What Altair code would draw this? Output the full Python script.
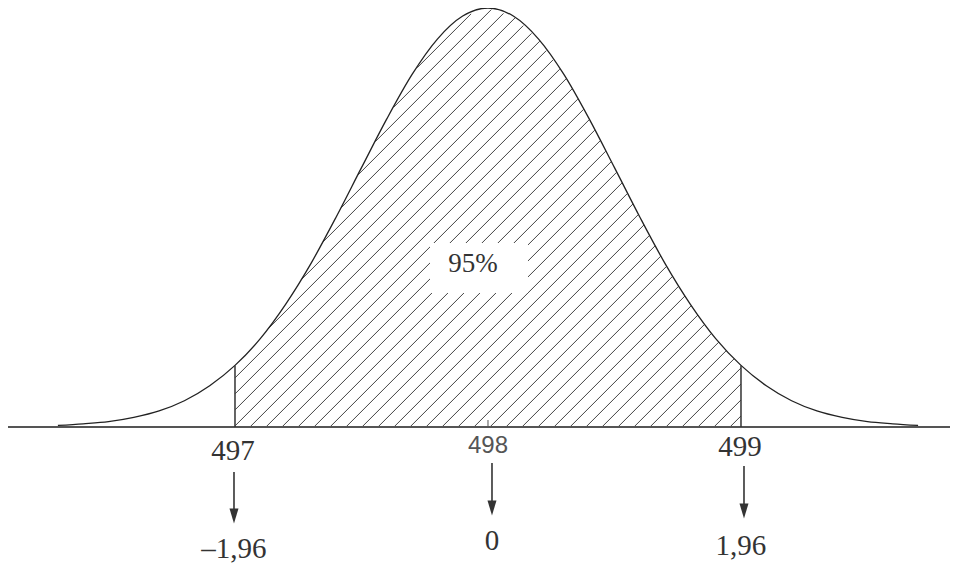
import numpy as np
import pandas as pd
import altair as alt

# ---- data ----
curve_x = [496.3, 496.4, 496.5, 496.6, 496.7, 496.8, 496.9, 497.0, 497.1, 497.2,
           497.3, 497.4, 497.5, 497.6, 497.7, 497.8, 497.9, 498.0, 498.1, 498.2,
           498.3, 498.4, 498.5, 498.6, 498.7, 498.8, 498.9, 499.0, 499.1, 499.2,
           499.3, 499.4, 499.5, 499.6, 499.7]
curve_y = [0.003, 0.006, 0.010, 0.018, 0.030, 0.049, 0.077, 0.115, 0.165, 0.229,
           0.305, 0.392, 0.484, 0.575, 0.658, 0.724, 0.767, 0.782, 0.767, 0.724,
           0.658, 0.575, 0.484, 0.392, 0.305, 0.229, 0.165, 0.115, 0.077, 0.049,
           0.030, 0.018, 0.010, 0.006, 0.003]
lower, mean, upper = 497.0, 498.0, 499.0
value_labels = ["497", "498", "499"]
value_pos = [497.0, 498.0, 499.0]
z_labels = ["\u20131,96", "0", "1,96"]
center_label = "95%"

# ---- layout ----
W, H = 942, 556
BASE_PX = 419  # baseline distance from top of plot, px
PX = 253.0     # px per unit on x
XMIN = 496.1028
XMAX = XMIN + W / PX
YMAX = 0.782
PY = BASE_PX / YMAX
YMIN = -(H - BASE_PX) / PY
xs = alt.Scale(domain=[XMIN, XMAX], nice=False, zero=False)
ys = alt.Scale(domain=[YMIN, YMAX], nice=False, zero=False)
X = lambda f: alt.X(f, type="quantitative", scale=xs, axis=None)
Y = lambda f: alt.Y(f, type="quantitative", scale=ys, axis=None)

# ---- hatch segments clipped to the area under the curve between lower and upper ----
def curve_h(v):
    return np.interp(v, curve_x, curve_y)

spacing = 16.0 / PX
phase = 498.64
segs = []
t = np.arange(0, 700, 0.2)
k_lo = int(np.ceil((phase - (lower - 600 / PX)) / spacing)) + 1
k_hi = int(np.ceil((upper - phase) / spacing)) + 1
for k in range(-k_hi, k_lo + 1):
    c = phase - k * spacing
    v = c + t / PX
    h = t / PY
    inside = (v >= lower) & (v <= upper) & (h <= curve_h(v) - 0.4 / PY)
    if not inside.any():
        continue
    idx = np.where(inside)[0]
    breaks = np.where(np.diff(idx) > 1)[0]
    starts = np.concatenate([[idx[0]], idx[breaks + 1]])
    ends = np.concatenate([idx[breaks], [idx[-1]]])
    for s, e in zip(starts, ends):
        if e - s < 3:
            continue
        segs.append({"x1": v[s], "y1": h[s], "x2": v[e], "y2": h[e]})
hatch_df = pd.DataFrame(segs)

hatch = alt.Chart(hatch_df).mark_rule(color="#444", strokeWidth=1).encode(
    x=X("x1"), y=Y("y1"), x2="x2", y2="y2")

baseline = alt.Chart(pd.DataFrame({"y": [0.0]})).mark_rule(
    color="#555", strokeWidth=2).encode(x=alt.value(0), x2=alt.value(W), y=Y("y"))

curve = alt.Chart(pd.DataFrame({"x": curve_x, "y": curve_y})).mark_line(
    color="#222", strokeWidth=1.3, interpolate="monotone").encode(x=X("x"), y=Y("y"))

bounds_df = pd.DataFrame({"x": [lower, upper], "y": [0.0, 0.0],
                          "y2": [curve_y[curve_x.index(lower)], curve_y[curve_x.index(upper)]]})
bounds = alt.Chart(bounds_df).mark_rule(color="#333", strokeWidth=1.5).encode(
    x=X("x"), y=Y("y"), y2="y2")

tick = alt.Chart(pd.DataFrame({"x": [mean], "y": [0.0]})).mark_rule(
    color="#555", strokeWidth=1, y2Offset=-7).encode(x=X("x"), y=Y("y"), y2="y")

layers = [hatch, baseline, curve, bounds, tick]

# 95% label with white box
lab_x = mean - 15 / PX
lab_y = 155 / PY
lab_df = pd.DataFrame({"x": [lab_x], "y": [lab_y], "t": [center_label]})
layers.append(alt.Chart(lab_df).mark_rect(
    color="white", xOffset=-43, x2Offset=55, yOffset=-29, y2Offset=21).encode(
    x=X("x"), x2="x", y=Y("y"), y2="y"))
layers.append(alt.Chart(lab_df).mark_text(
    font="Liberation Serif", fontSize=27, color="#333", baseline="alphabetic",
    align="center").encode(x=X("x"), y=Y("y"), text="t:N"))

# value labels, arrows, z labels
top_dy = [33, 26, 29]
top_dx = [-2, 0, -1]
top_font = ["Liberation Serif", "Liberation Sans", "Liberation Serif"]
top_size = [29, 24, 29]
top_color = ["#333", "#555", "#333"]
arrow_dx = [-1, 4, 3]
arrow_top = [45, 36, 39]
arrow_bot = [96, 88, 91]
bot_dy = [131, 123, 128]
bot_dx = [-1, 4, 0]
arrow_shape = "M-0.6,-1L0.6,-1L0,1Z"

for i in range(3):
    d = pd.DataFrame({"x": [value_pos[i]], "y": [0.0],
                      "t": [value_labels[i]], "z": [z_labels[i]]})
    base = alt.Chart(d)
    layers.append(base.mark_text(
        font=top_font[i], fontSize=top_size[i], color=top_color[i],
        baseline="alphabetic", align="center", dy=top_dy[i], dx=top_dx[i]).encode(
        x=X("x"), y=Y("y"), text="t:N"))
    layers.append(base.mark_rule(
        color="#333", strokeWidth=1.6, xOffset=arrow_dx[i], x2Offset=arrow_dx[i],
        yOffset=arrow_top[i], y2Offset=arrow_bot[i] - 4).encode(
        x=X("x"), y=Y("y"), y2="y"))
    layers.append(base.mark_point(
        shape=arrow_shape, filled=True, size=225, color="#333", opacity=1,
        strokeWidth=0, xOffset=arrow_dx[i], yOffset=arrow_bot[i] - 7).encode(
        x=X("x"), y=Y("y")))
    layers.append(base.mark_text(
        font="Liberation Serif", fontSize=29, color="#333",
        baseline="alphabetic", align="center", dy=bot_dy[i], dx=bot_dx[i]).encode(
        x=X("x"), y=Y("y"), text="z:N"))

chart = alt.layer(*layers).properties(
    width=W, height=H, padding=0,
    autosize=alt.AutoSizeParams(type="none"),
    background="white",
).configure_view(strokeWidth=0)

chart.save("out.html", embed_options={"renderer": "svg", "actions": False})
